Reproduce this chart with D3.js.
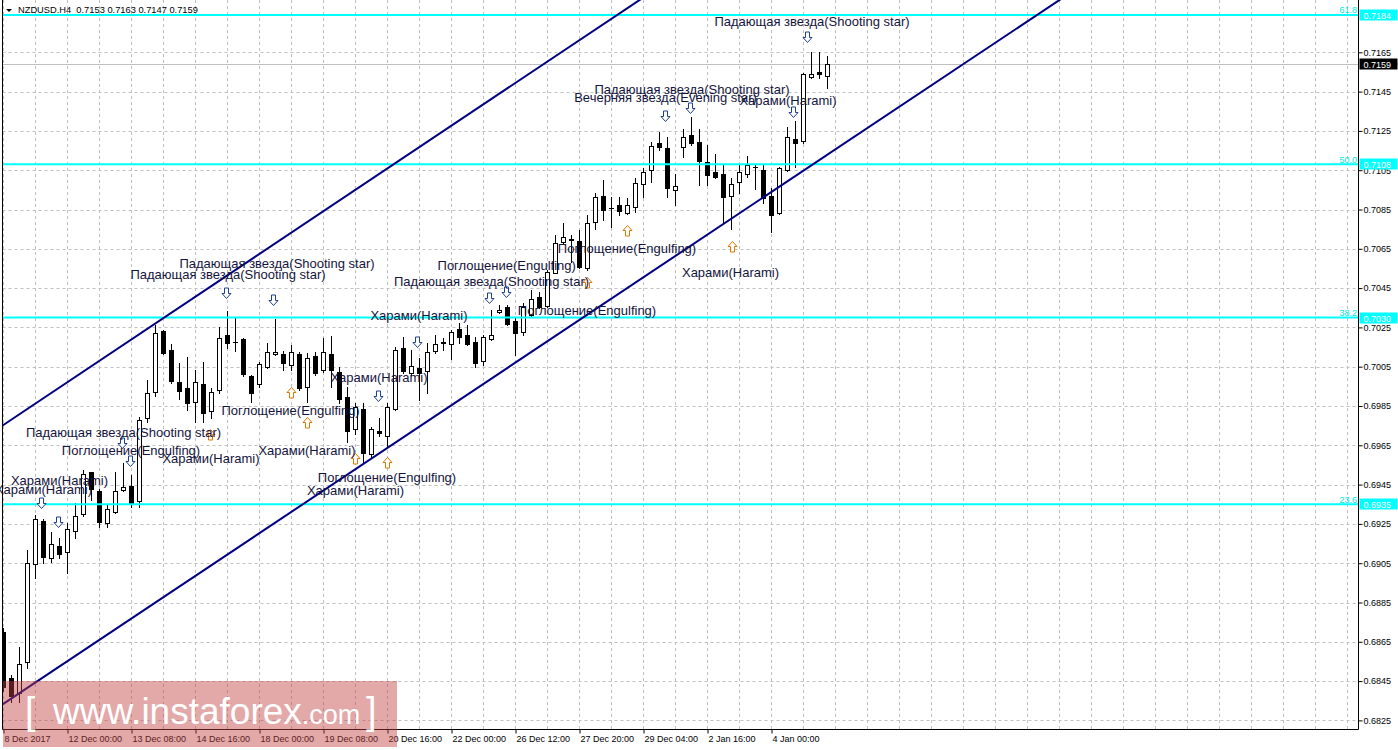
<!DOCTYPE html>
<html><head><meta charset="utf-8">
<script src="https://cdn.jsdelivr.net/npm/d3@7"></script>
<style>html,body{margin:0;padding:0;background:#fff;overflow:hidden}</style>
</head><body>
<svg id="c" width="1398" height="750"></svg>
<script>
const symbol = "NZDUSD.H4";
const opens = [0.6870,0.68466,0.68389,0.68546,0.69044,0.69265,0.69075,0.69138,0.69106,0.69214,
0.69300,0.69513,0.69418,0.69253,0.69312,0.69423,0.69443,0.69368,0.69787,0.69923,
0.70232,0.70135,0.69974,0.69940,0.69872,0.69960,0.69826,0.69931,0.70211,0.70177,
0.70190,0.70003,0.69960,0.70050,0.70113,0.70113,0.70059,0.70115,0.69948,0.70105,
0.70033,0.70113,0.70021,0.69897,0.69731,0.69835,0.69604,0.69723,0.69699,0.69833,
0.70144,0.70020,0.70042,0.70030,0.70131,0.70175,0.70164,0.70240,0.70211,0.70174,
0.70081,0.70190,0.70330,0.70355,0.70283,0.70228,0.70313,0.70406,0.70360,0.70528,
0.70686,0.70699,0.70690,0.70551,0.70788,0.70919,0.70859,0.70873,0.70831,0.70861,
0.70980,0.71051,0.71187,0.71161,0.70949,0.71167,0.71229,0.71195,0.71090,0.71039,
0.71031,0.70920,0.70988,0.71031,0.71067,0.71051,0.70920,0.70831,0.71051,0.71207,
0.71199,0.71526,0.71548,0.71530];
const highs = [0.6872,0.68481,0.68625,0.69117,0.69295,0.69277,0.6921,0.69177,0.69256,0.69358,
0.69524,0.69516,0.69428,0.6935,0.69516,0.69562,0.69499,0.69794,0.69982,0.70262,
0.70235,0.70166,0.7007,0.70101,0.70033,0.70075,0.69943,0.70254,0.70335,0.70296,
0.70195,0.70008,0.70075,0.70169,0.70291,0.7013,0.7016,0.70126,0.70121,0.70126,
0.70198,0.70208,0.70047,0.69948,0.69867,0.69864,0.69742,0.69789,0.69864,0.70152,
0.70203,0.70135,0.70093,0.70169,0.70211,0.70195,0.70237,0.70271,0.7026,0.70203,
0.70211,0.70339,0.70364,0.70364,0.70305,0.70373,0.7044,0.70432,0.70542,0.7072,
0.70783,0.7072,0.70746,0.70822,0.70932,0.71,0.70915,0.70915,0.70907,0.71009,
0.71059,0.71195,0.71246,0.71217,0.71031,0.71258,0.71319,0.71258,0.71178,0.71132,
0.71082,0.71009,0.71082,0.71122,0.71077,0.71077,0.70958,0.71068,0.71268,0.71302,
0.71543,0.71653,0.71653,0.7163];
const lows = [0.6840,0.68344,0.68345,0.68515,0.68973,0.6905,0.69058,0.69075,0.69002,0.69177,
0.69292,0.69372,0.69233,0.69233,0.69304,0.69418,0.69334,0.69336,0.69768,0.69901,
0.70115,0.69966,0.69884,0.6983,0.6977,0.6977,0.69787,0.69915,0.70144,0.70131,
0.70003,0.69872,0.69948,0.70042,0.7011,0.70033,0.70033,0.69931,0.69872,0.70008,
0.70025,0.69948,0.69864,0.69668,0.69707,0.69558,0.69592,0.69698,0.69646,0.6983,
0.70016,0.70008,0.6988,0.69915,0.70118,0.70135,0.70088,0.70172,0.70161,0.7005,
0.70059,0.70186,0.70322,0.7026,0.7011,0.70211,0.70308,0.70347,0.70355,0.70525,
0.70678,0.70584,0.70553,0.70542,0.70751,0.70797,0.70763,0.70822,0.70827,0.70839,
0.70915,0.70992,0.71153,0.70915,0.70873,0.71119,0.71178,0.70975,0.70975,0.71009,
0.70788,0.70749,0.70932,0.71017,0.70955,0.70882,0.70737,0.70827,0.71046,0.71068,
0.71187,0.71518,0.71518,0.7147];
const closes = [0.6842,0.68374,0.68536,0.69053,0.69273,0.69083,0.69146,0.69095,0.69223,0.69292,
0.69502,0.69428,0.69261,0.69324,0.69418,0.69439,0.69358,0.69779,0.69915,0.7022,
0.70121,0.69979,0.69928,0.69864,0.69971,0.69813,0.69923,0.70198,0.70172,0.70175,
0.70011,0.69915,0.70064,0.70123,0.70126,0.7007,0.70123,0.6994,0.70093,0.7002,
0.70123,0.70033,0.69884,0.69724,0.69843,0.69612,0.69731,0.69713,0.69843,0.70135,
0.7003,0.70054,0.70016,0.70123,0.70164,0.70172,0.70228,0.702,0.70164,0.7007,
0.702,0.70211,0.70339,0.70267,0.7022,0.70355,0.70393,0.70355,0.70533,0.70678,
0.70709,0.70696,0.70559,0.7078,0.70912,0.70847,0.70858,0.70842,0.70873,0.70986,
0.71039,0.71175,0.71167,0.70958,0.7097,0.71217,0.71187,0.71098,0.71026,0.71017,
0.70912,0.7098,0.71039,0.71077,0.71065,0.70907,0.70822,0.7106,0.71217,0.71187,
0.7154,0.7154,0.71538,0.7159];

const timeIdx = [0,8,16,24,32,40,48,56,64,72,80,88,96];
const timeLabels = ["8 Dec 2017","12 Dec 00:00","13 Dec 08:00","14 Dec 16:00","18 Dec 00:00","19 Dec 08:00","20 Dec 16:00","22 Dec 00:00","26 Dec 12:00","27 Dec 20:00","29 Dec 04:00","2 Jan 16:00","4 Jan 00:00"];
const priceTicks = [0.7165,0.7145,0.7125,0.7105,0.7085,0.7065,0.7045,0.7025,0.7005,0.6985,0.6965,0.6945,0.6925,0.6905,0.6885,0.6865,0.6845,0.6825];

const fibNames = ["61.8","50.0","38.2","23.6"];
const fibPrices = [0.7184,0.7108,0.7030,0.6935];

// channel anchors: [bar index, price]
const channelUpper = [[0,0.69754],[78,0.71875]];
const channelLower = [[0,0.68335],[131,0.71889]];

// candlestick pattern annotations: text, bar, price
const patternLabels = [
 ["Падающая звезда(Shooting star)",101.06,0.71784],
 ["Падающая звезда(Shooting star)",86.06,0.71438],
 ["Вечерняя звезда(Evening star)",82.75,0.71396],
 ["Харами(Harami)",98.06,0.71382],
 ["Поглощение(Engulfing)",77.94,0.7063],
 ["Харами(Harami)",90.88,0.70507],
 ["Поглощение(Engulfing)",62.9,0.70542],
 ["Падающая звезда(Shooting star)",61.0,0.70461],
 ["Поглощение(Engulfing)",72.94,0.70313],
 ["Харами(Harami)",51.94,0.70288],
 ["Падающая звезда(Shooting star)",34.19,0.70552],
 ["Падающая звезда(Shooting star)",28.06,0.70496],
 ["Харами(Harami)",46.94,0.69972],
 ["Поглощение(Engulfing)",35.88,0.69804],
 ["Падающая звезда(Shooting star)",15.0,0.69692],
 ["Поглощение(Engulfing)",15.94,0.69601],
 ["Харами(Harami)",25.94,0.6956],
 ["Харами(Harami)",37.94,0.69601],
 ["Поглощение(Engulfing)",47.94,0.69463],
 ["Харами(Harami)",44.0,0.69397],
 ["Харами(Harami)",7.0,0.69448],
 ["Харами(Harami)",5.0,0.69402]
];
const arrowsDown = [[4.65,0.69356],[6.85,0.6926],[14.78,0.69664],[15.81,0.69568],[27.81,0.70423],[33.73,0.7039],[46.78,0.69901],[51.73,0.70176],[60.73,0.704],[62.81,0.7043],[82.69,0.71326],[85.81,0.71369],[98.69,0.71344],[100.4,0.71728]];
const arrowsUp = [[25.81,0.69708],[35.9,0.69921],[37.9,0.69769],[43.94,0.69585],[47.9,0.69565],[72.94,0.70479],[77.94,0.70746],[91.03,0.70664]];

const FONT = "'Liberation Sans', Arial, sans-serif";
const svg = d3.select('#c');
const plotL = 2.5, plotR = 1358.5, plotB = 729.5;
const x = d3.scaleLinear().domain([0,1]).range([3.5,11.5]);
const y = d3.scaleLinear().domain([0.6825,0.7165]).range([720.4,52.3]);
const sy = v => Math.round(v) + 0.5;
const fmt = d3.format('.4f');

svg.append('defs').append('clipPath').attr('id','plot')
  .append('rect').attr('x',plotL).attr('y',0).attr('width',plotR-plotL).attr('height',plotB);

const grid = svg.append('g');
const vIdx = d3.range(0, 200, 4).filter(i => x(i) < plotR);
grid.selectAll('line.v').data(vIdx).join('line')
  .attr('x1',d=>x(d)).attr('x2',d=>x(d)).attr('y1',0).attr('y2',plotB)
  .attr('stroke','#c0c0c0').attr('stroke-dasharray','3,3');
grid.selectAll('line.h').data(priceTicks).join('line')
  .attr('x1',plotL).attr('x2',plotR).attr('y1',d=>sy(y(d))).attr('y2',d=>sy(y(d)))
  .attr('stroke','#c0c0c0').attr('stroke-dasharray','3,3');

// current price line
const last = closes.length-1;
svg.append('line').attr('x1',plotL).attr('x2',plotR)
  .attr('y1',sy(y(closes[last]))).attr('y2',sy(y(closes[last])))
  .attr('stroke','#c0c0c0');

// candles
const bars = d3.range(opens.length).map(i=>({i,o:opens[i],h:highs[i],l:lows[i],c:closes[i]}));
const cg = svg.append('g').attr('clip-path','url(#plot)');
cg.selectAll('line.wick').data(bars).join('line')
  .attr('x1',d=>x(d.i)).attr('x2',d=>x(d.i))
  .attr('y1',d=>Math.round(y(d.h))).attr('y2',d=>Math.round(y(d.l))+1)
  .attr('stroke','#000');
bars.forEach(d=>{
  const top = sy(y(Math.max(d.o,d.c))), bot = sy(y(Math.min(d.o,d.c)));
  if (bot - top < 1) {
    cg.append('line').attr('x1',x(d.i)-2.5).attr('x2',x(d.i)+2.5).attr('y1',top).attr('y2',top).attr('stroke','#000');
  } else {
    cg.append('rect').attr('x',x(d.i)-2).attr('y',top).attr('width',4).attr('height',bot-top)
      .attr('fill', d.c >= d.o ? '#fff' : '#000').attr('stroke','#000');
  }
});

// fibonacci levels
const fg = svg.append('g');
fg.selectAll('line').data(fibPrices).join('line')
  .attr('x1',plotL).attr('x2',plotR).attr('y1',d=>y(d)).attr('y2',d=>y(d))
  .attr('stroke','#00ffff').attr('stroke-width',2);
fg.selectAll('text').data(fibPrices).join('text')
  .attr('x',plotR-1.5).attr('y',d=>y(d)-1.5).attr('text-anchor','end')
  .attr('font-family',FONT).attr('font-size',9).attr('fill','#00e5e5')
  .text((d,i)=>fibNames[i]);

// channel
const chg = svg.append('g').attr('clip-path','url(#plot)');
[channelUpper, channelLower].forEach(ch=>{
  const slope = (ch[1][1]-ch[0][1])/(ch[1][0]-ch[0][0]);
  const at = b => ch[0][1] + slope*(b-ch[0][0]);
  chg.append('line').attr('x1',x(-2)).attr('y1',y(at(-2))).attr('x2',x(200)).attr('y2',y(at(200)))
    .attr('stroke','#000080').attr('stroke-width',2);
});

// arrows
const ag = svg.append('g');
const downPath = 'M-2,-5.5 L2,-5.5 L2,0 L4.5,0 L0,5 L-4.5,0 L-2,0 Z';
const upPath = 'M-2,5.5 L2,5.5 L2,0 L4.5,0 L0,-5 L-4.5,0 L-2,0 Z';
ag.selectAll('path.d').data(arrowsDown).join('path')
  .attr('d',downPath).attr('transform',d=>`translate(${Math.round(x(d[0]))+0.5},${Math.round(y(d[1]))+0.5})`)
  .attr('fill','#fff').attr('stroke','#1f3f8f').attr('stroke-width',1);
ag.selectAll('path.u').data(arrowsUp).join('path')
  .attr('d',upPath).attr('transform',d=>`translate(${Math.round(x(d[0]))+0.5},${Math.round(y(d[1]))+0.5})`)
  .attr('fill','#fff').attr('stroke','#e07800').attr('stroke-width',1);

// pattern labels
svg.append('g').selectAll('text').data(patternLabels).join('text')
  .attr('x',d=>x(d[1])).attr('y',d=>y(d[2])).attr('text-anchor','middle')
  .attr('font-family',FONT).attr('font-size',13).attr('fill','#14143c')
  .text(d=>d[0]);

// right axis
const ra = svg.append('g').attr('transform',`translate(${plotR},0)`)
  .call(d3.axisRight(y).tickValues(priceTicks).tickFormat(fmt).tickSize(4).tickSizeOuter(0).tickPadding(1));
ra.select('.domain').remove();
ra.selectAll('text').attr('font-family',FONT).attr('font-size',9).attr('fill','#000');
ra.selectAll('line').attr('stroke','#000');

// bottom axis
const ba = svg.append('g').attr('transform',`translate(0,${plotB})`)
  .call(d3.axisBottom(x).tickValues(timeIdx).tickFormat((d,i)=>timeLabels[i]).tickSize(4).tickSizeOuter(0).tickPadding(2));
ba.select('.domain').remove();
ba.selectAll('text').attr('font-family',FONT).attr('font-size',9).attr('fill','#000').attr('text-anchor','start').attr('dx',0.5);
ba.selectAll('line').attr('stroke','#000');

// borders
svg.append('line').attr('x1',plotL).attr('x2',plotL).attr('y1',0).attr('y2',plotB).attr('stroke','#000');
svg.append('line').attr('x1',plotR).attr('x2',plotR).attr('y1',0).attr('y2',plotB).attr('stroke','#000');
svg.append('line').attr('x1',plotL).attr('x2',plotR).attr('y1',plotB).attr('y2',plotB).attr('stroke','#000');

// price boxes
const boxes = fibPrices.map(p=>({p,bg:'#00ffff'})).concat([{p:closes[last],bg:'#000'}]);
const bx = svg.append('g');
bx.selectAll('rect').data(boxes).join('rect')
  .attr('x',plotR+1).attr('y',d=>Math.round(y(d.p))-5.5).attr('width',38).attr('height',11).attr('fill',d=>d.bg);
bx.selectAll('text').data(boxes).join('text')
  .attr('x',plotR+5).attr('y',d=>Math.round(y(d.p))+3.5)
  .attr('font-family',FONT).attr('font-size',9).attr('fill','#fff').text(d=>fmt(d.p));

// title
svg.append('path').attr('d','M6,9 L12,9 L9,12 Z').attr('fill','#000');
svg.append('text').attr('x',18).attr('y',13).attr('font-family',FONT).attr('font-size',9.3).attr('fill','#000')
  .attr('xml:space','preserve')
  .text(`${symbol}  ${fmt(opens[last])} ${fmt(highs[last])} ${fmt(lows[last])} ${fmt(closes[last])}`);

// watermark
const wm = svg.append('g');
wm.append('rect').attr('x',3).attr('y',681).attr('width',394).attr('height',66).attr('fill','#c04040').attr('fill-opacity',0.45);
wm.append('text').attr('x',25).attr('y',724).attr('font-family',FONT).attr('font-size',38).attr('fill','#fff').text('[');
const wt = wm.append('text').attr('x',53).attr('y',724).attr('font-family',FONT).attr('font-size',37).attr('fill','#fff');
wt.append('tspan').text('www.instaforex');
wt.append('tspan').attr('font-size',27).text('.com');
wm.append('text').attr('x',366).attr('y',724).attr('font-family',FONT).attr('font-size',38).attr('fill','#fff').text(']');
</script>
</body></html>
